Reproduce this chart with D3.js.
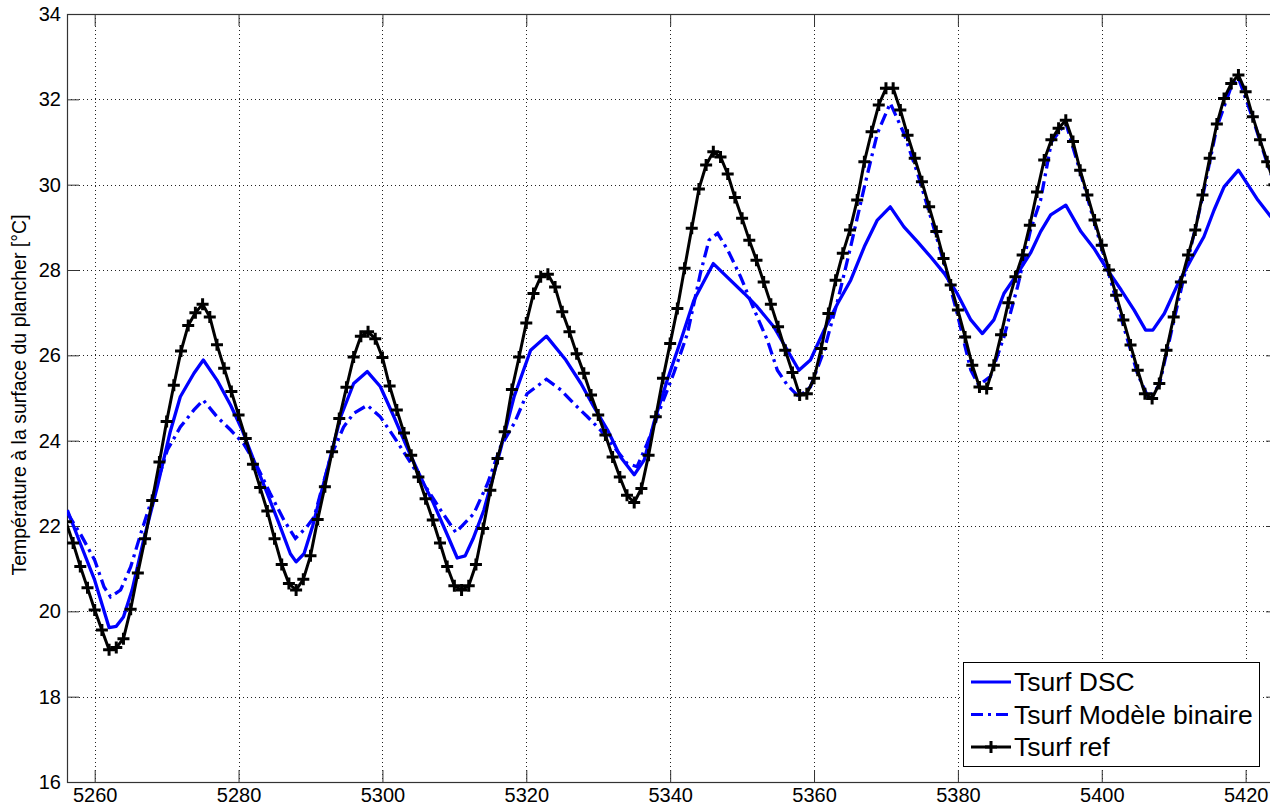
<!DOCTYPE html>
<html>
<head>
<meta charset="utf-8">
<script src="https://cdn.jsdelivr.net/npm/d3@7"></script>
<style>
  body { margin: 0; background: #fff; }
  svg { display: block; font-family: "Liberation Sans", Arial, sans-serif; }
</style>
</head>
<body>
<svg id="chart" width="1270" height="807"></svg>
<script>
// x tick labels / y tick labels
const xTicks = [5260, 5280, 5300, 5320, 5340, 5360, 5380, 5400, 5420];
const yTicks = [16, 18, 20, 22, 24, 26, 28, 30, 32, 34];

// Tsurf ref: one value per hour, starting at hour 5256
const refStart = 5256;
const refValues = [
    22.1, 21.6, 21.05, 20.55, 20.03, 19.56, 19.1, 19.15, 19.36, 20.05,
    20.9, 21.7, 22.6, 23.5, 24.45, 25.3, 26.1, 26.7, 27.0, 27.2,
    26.9, 26.25, 25.7, 25.15, 24.6, 24.05, 23.45, 22.9, 22.35, 21.7,
    21.1, 20.65, 20.5, 20.75, 21.3, 22.15, 22.92, 23.74, 24.52, 25.25,
    25.96, 26.45, 26.55, 26.39, 25.95, 25.28, 24.72, 24.18, 23.66, 23.15,
    22.64, 22.14, 21.6, 21.05, 20.6, 20.5, 20.6, 21.1, 21.94, 22.84,
    23.58, 24.21, 25.2, 25.96, 26.76, 27.45, 27.84, 27.9, 27.6, 27.02,
    26.55, 26.04, 25.58, 25.07, 24.6, 24.13, 23.62, 23.15, 22.72, 22.55,
    22.88, 23.66, 24.56, 25.46, 26.28, 27.1, 28.04, 28.98, 29.9, 30.46,
    30.77, 30.65, 30.25, 29.7, 29.21, 28.7, 28.23, 27.72, 27.2, 26.67,
    26.12, 25.6, 25.07, 25.1, 25.46, 26.16, 26.98, 27.76, 28.39, 28.94,
    29.64, 30.54, 31.24, 31.87, 32.26, 32.26, 31.75, 31.16, 30.62, 30.07,
    29.48, 28.9, 28.27, 27.65, 27.06, 26.43, 25.77, 25.26, 25.22, 25.77,
    26.48, 27.23, 27.84, 28.35, 29.05, 29.83, 30.58, 31.05, 31.32, 31.51,
    31.01, 30.34, 29.76, 29.17, 28.58, 28.0, 27.41, 26.83, 26.24, 25.65,
    25.1, 24.99, 25.34, 26.12, 26.9, 27.72, 28.35, 28.94, 29.76, 30.62,
    31.42, 32.02, 32.37, 32.57, 32.18, 31.59, 31.05, 30.54, 30.0
];

// Tsurf DSC: [hour, temperature]
const dscPoints = [
    [5256.2, 22.37], [5258, 21.59], [5260, 20.73], [5262, 19.62], [5263, 19.65], [5264, 19.87],
    [5265.2, 20.5], [5266.8, 21.67], [5268.7, 22.92], [5270.5, 24.21], [5271.9, 25.03], [5273.8, 25.58],
    [5275.1, 25.89], [5277, 25.42], [5278.9, 24.83], [5280.5, 24.25], [5282.1, 23.55], [5284, 22.76],
    [5285.8, 21.98], [5287.2, 21.35], [5288, 21.16], [5289.1, 21.35], [5290.3, 22.0], [5292.3, 23.31],
    [5294.2, 24.56], [5296, 25.34], [5297.9, 25.62], [5299.7, 25.27], [5301.6, 24.56], [5303.4, 23.85],
    [5305.3, 23.15], [5307.1, 22.53], [5309, 21.8], [5310.4, 21.25], [5311.5, 21.3], [5312.6, 21.7],
    [5314.1, 22.37], [5316.4, 23.78], [5318.3, 25.03], [5320.6, 26.12], [5322.8, 26.45], [5325.5, 25.89],
    [5327.6, 25.34], [5329.4, 24.79], [5331.3, 24.25], [5333.1, 23.62], [5335, 23.2], [5336.4, 23.55],
    [5337.7, 24.4], [5339.6, 25.42], [5341.5, 26.36], [5343.3, 27.29], [5346, 28.15], [5347.9, 27.84],
    [5350.3, 27.45], [5352.1, 27.14], [5354.4, 26.67], [5356.3, 26.12], [5357.9, 25.65], [5359.5, 25.89],
    [5361.4, 26.59], [5363.3, 27.22], [5365.1, 27.76], [5367, 28.55], [5368.8, 29.17], [5370.6, 29.48],
    [5372.5, 29.01], [5374.4, 28.66], [5376.2, 28.31], [5378.1, 27.92], [5379.9, 27.45], [5381.8, 26.83],
    [5383.4, 26.51], [5385, 26.83], [5386.4, 27.45], [5388.3, 27.92], [5390.1, 28.4], [5391.5, 28.9],
    [5392.9, 29.29], [5395, 29.52], [5397.1, 28.9], [5398.9, 28.51], [5400.8, 28.0], [5402.7, 27.53],
    [5404.5, 27.06], [5406.1, 26.59], [5407.1, 26.59], [5408.7, 26.98], [5410.6, 27.68], [5412.5, 28.27],
    [5414.2, 28.78], [5415.6, 29.4], [5417, 29.95], [5419, 30.34], [5421.7, 29.64], [5423.5, 29.25],
    [5424.5, 29.05]
];

// Tsurf Modèle binaire: [hour, temperature]
const binPoints = [
    [5256.2, 22.3], [5258, 21.82], [5260, 21.2], [5261.3, 20.57], [5262.2, 20.34], [5263.6, 20.5],
    [5265, 21.04], [5266.4, 21.82], [5268.2, 22.76], [5270.1, 23.78], [5271.9, 24.32], [5273.8, 24.72],
    [5275.1, 24.95], [5277, 24.56], [5278.9, 24.25], [5280.7, 23.93], [5282.6, 23.39], [5284.4, 22.76],
    [5286.3, 22.14], [5287.9, 21.71], [5289.5, 21.98], [5290.5, 22.21], [5292.8, 23.62], [5294.6, 24.32],
    [5296, 24.64], [5297.9, 24.83], [5299.7, 24.56], [5301.6, 24.09], [5303.4, 23.62], [5305.3, 23.11],
    [5308.1, 22.37], [5310.2, 21.85], [5312.7, 22.29], [5314.6, 22.99], [5316.4, 23.85], [5318.3, 24.4],
    [5320.1, 25.1], [5322.8, 25.44], [5324.8, 25.19], [5326.6, 24.87], [5328.5, 24.56], [5330.3, 24.25],
    [5332.2, 23.85], [5334, 23.47], [5335.4, 23.39], [5336.8, 23.93], [5338.7, 24.79], [5340.5, 25.58],
    [5342.4, 26.51], [5344.2, 27.92], [5345.4, 28.7], [5346.6, 28.86], [5348, 28.47], [5349.8, 27.84],
    [5351.7, 27.06], [5353.5, 26.36], [5354.9, 25.65], [5356.3, 25.3], [5357.9, 25.03], [5359.5, 25.26],
    [5361.4, 26.12], [5363.3, 27.29], [5365.1, 28.55], [5367, 29.95], [5368.8, 31.2], [5370.6, 31.91],
    [5372.5, 31.2], [5374.4, 30.26], [5376.2, 29.25], [5378.1, 28.15], [5379.9, 26.98], [5381.8, 25.65],
    [5382.9, 25.3], [5384.5, 25.5], [5386.4, 26.43], [5388.3, 27.61], [5390.1, 28.94], [5391.5, 29.64],
    [5393, 31.0], [5395, 31.45], [5397, 30.3], [5399, 29.1], [5401, 27.9], [5403, 26.7],
    [5405, 25.55], [5406.5, 25.0], [5408, 25.3], [5410, 26.8], [5412, 28.25], [5414, 29.7],
    [5416, 31.35], [5418, 32.3], [5419, 32.5], [5421, 31.55], [5423, 30.5], [5424.5, 29.8]
];

const seriesNames = ["Tsurf DSC", "Tsurf Modèle binaire", "Tsurf ref"];
const yLabel = "Température à la surface du plancher [°C]";

const svg = d3.select("#chart");
const plotLeft = 67, plotRight = 1278, plotTop = 14, plotBottom = 782;

const x = d3.scaleLinear().domain([5256.15, 5424.5]).range([plotLeft, plotRight]);
const y = d3.scaleLinear().domain([16, 34]).range([plotBottom, plotTop]);

const refPoints = refValues.map((v, i) => [refStart + i, v]);

svg.append("defs").append("clipPath").attr("id", "clip")
    .append("rect")
    .attr("x", plotLeft).attr("y", plotTop)
    .attr("width", plotRight - plotLeft).attr("height", plotBottom - plotTop);

// grid
const grid = svg.append("g")
    .attr("stroke", "#222")
    .attr("stroke-width", 1)
    .attr("stroke-dasharray", "1,3");

grid.selectAll(".vg")
    .data(xTicks)
    .join("line")
    .attr("x1", d => Math.round(x(d)) + 0.5).attr("x2", d => Math.round(x(d)) + 0.5)
    .attr("y1", plotTop).attr("y2", plotBottom);

grid.selectAll(".hg")
    .data(yTicks.filter(d => d > 16 && d < 34))
    .join("line")
    .attr("y1", d => Math.round(y(d)) + 0.5).attr("y2", d => Math.round(y(d)) + 0.5)
    .attr("x1", plotLeft).attr("x2", plotRight);

// axes
const axisColor = "#333";
function styleAxis(g) {
    g.select(".domain").remove();
    g.selectAll(".tick line").attr("stroke", axisColor);
    g.selectAll(".tick text").attr("fill", "#000").attr("font-size", 20);
}

svg.append("g")
    .attr("transform", `translate(0,${plotBottom})`)
    .call(d3.axisBottom(x).tickValues(xTicks).tickFormat(d3.format("d")).tickSize(-12).tickPadding(6))
    .call(styleAxis);

svg.append("g")
    .attr("transform", `translate(0,${plotTop})`)
    .call(d3.axisTop(x).tickValues(xTicks).tickFormat("").tickSize(-12))
    .call(styleAxis);

svg.append("g")
    .attr("transform", `translate(${plotLeft},0)`)
    .call(d3.axisLeft(y).tickValues(yTicks).tickFormat(d3.format("d")).tickSize(-12).tickPadding(6))
    .call(styleAxis);

svg.append("g")
    .attr("transform", `translate(${plotRight},0)`)
    .call(d3.axisRight(y).tickValues(yTicks).tickFormat("").tickSize(-12))
    .call(styleAxis);

// box
svg.append("rect")
    .attr("x", plotLeft + 0.5).attr("y", plotTop + 0.5)
    .attr("width", plotRight - plotLeft).attr("height", plotBottom - plotTop)
    .attr("fill", "none")
    .attr("stroke", axisColor)
    .attr("stroke-width", 1.2);

// lines
const line = d3.line().x(d => x(d[0])).y(d => y(d[1]));
const plot = svg.append("g").attr("clip-path", "url(#clip)");

plot.append("path")
    .datum(dscPoints)
    .attr("d", line)
    .attr("fill", "none")
    .attr("stroke", "#0000ff")
    .attr("stroke-width", 3.3)
    .attr("stroke-linejoin", "round");

plot.append("path")
    .datum(binPoints)
    .attr("d", line)
    .attr("fill", "none")
    .attr("stroke", "#0000ff")
    .attr("stroke-width", 3.3)
    .attr("stroke-dasharray", "12,5,3,5");

plot.append("path")
    .datum(refPoints)
    .attr("d", line)
    .attr("fill", "none")
    .attr("stroke", "#000")
    .attr("stroke-width", 3)
    .attr("stroke-linejoin", "round");

plot.selectAll(".mk")
    .data(refPoints)
    .join("path")
    .attr("transform", d => `translate(${x(d[0])},${y(d[1])})`)
    .attr("d", "M-6,0H6M0,-6V6")
    .attr("stroke", "#000")
    .attr("stroke-width", 3);

// y label
svg.append("text")
    .attr("transform", `translate(26,395) rotate(-90)`)
    .attr("text-anchor", "middle")
    .attr("font-size", 19.5)
    .attr("fill", "#000")
    .text(yLabel);

// legend
const legend = svg.append("g").attr("transform", "translate(963,662)");
legend.append("rect")
    .attr("x", 0.5).attr("y", 0.5)
    .attr("width", 296).attr("height", 104)
    .attr("fill", "#fff")
    .attr("stroke", "#000")
    .attr("stroke-width", 1);

const legendStyles = [
    {color: "#0000ff", dash: null, marker: false},
    {color: "#0000ff", dash: "12,5,3,5", marker: false},
    {color: "#000", dash: null, marker: true}
];

seriesNames.forEach((name, i) => {
    const ly = 20 + i * 32.5;
    const s = legendStyles[i];
    legend.append("line")
        .attr("x1", 8).attr("x2", 48)
        .attr("y1", ly).attr("y2", ly)
        .attr("stroke", s.color)
        .attr("stroke-width", 3)
        .attr("stroke-dasharray", s.dash);
    if (s.marker) {
        legend.append("path")
            .attr("transform", `translate(28,${ly})`)
            .attr("d", "M-6,0H6M0,-6V6")
            .attr("stroke", "#000")
            .attr("stroke-width", 3);
    }
    legend.append("text")
        .attr("x", 51).attr("y", ly)
        .attr("dy", "0.35em")
        .attr("font-size", 26.5)
        .attr("fill", "#000")
        .text(name);
});
</script>
</body>
</html>
